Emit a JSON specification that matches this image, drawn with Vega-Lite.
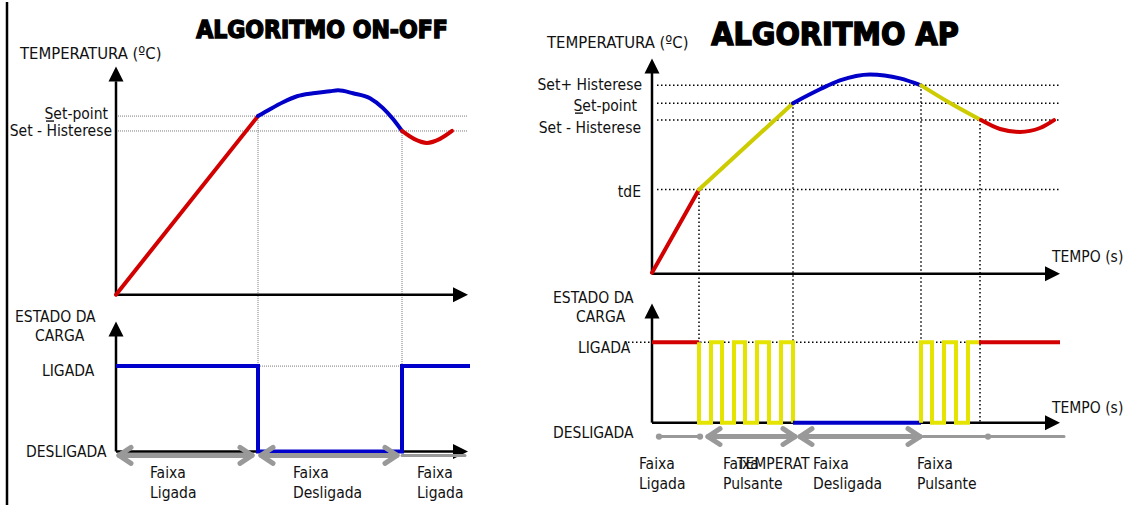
{
  "$schema": "https://vega.github.io/schema/vega-lite/v6.json",
  "width": 1131,
  "height": 507,
  "autosize": {"type": "fit", "contains": "padding"},
  "padding": 0,
  "background": "white",
  "config": {"view": {"stroke": null}},
  "datasets": {
    "rules": [
      {"x": 116, "x2": 468, "y": 115, "y2": 115, "kind": "gridL"},
      {"x": 116, "x2": 468, "y": 130, "y2": 130, "kind": "gridL"},
      {"x": 258, "x2": 258, "y": 115, "y2": 455, "kind": "gridL"},
      {"x": 402, "x2": 402, "y": 130, "y2": 455, "kind": "gridL"},
      {"x": 258, "x2": 402, "y": 367, "y2": 367, "kind": "gridL"},
      {"x": 657, "x2": 1059, "y": 84, "y2": 84, "kind": "gridR"},
      {"x": 657, "x2": 1059, "y": 102, "y2": 102, "kind": "gridR"},
      {"x": 657, "x2": 1059, "y": 119, "y2": 119, "kind": "gridR"},
      {"x": 657, "x2": 1059, "y": 189, "y2": 189, "kind": "gridR"},
      {"x": 699, "x2": 699, "y": 189, "y2": 424, "kind": "gridR"},
      {"x": 793, "x2": 793, "y": 102, "y2": 424, "kind": "gridR"},
      {"x": 921, "x2": 921, "y": 84, "y2": 424, "kind": "gridR"},
      {"x": 980, "x2": 980, "y": 119, "y2": 424, "kind": "gridR"},
      {"x": 628, "x2": 1060, "y": 343, "y2": 343, "kind": "gridR"},
      {"x": 7, "x2": 7, "y": 0, "y2": 507, "kind": "axis"},
      {"x": 116, "x2": 116, "y": 80, "y2": 295, "kind": "axis"},
      {"x": 116, "x2": 455, "y": 295, "y2": 295, "kind": "axis"},
      {"x": 116, "x2": 116, "y": 336, "y2": 453, "kind": "axis"},
      {"x": 116, "x2": 455, "y": 453, "y2": 453, "kind": "axis"},
      {"x": 652, "x2": 652, "y": 68, "y2": 274, "kind": "axis"},
      {"x": 652, "x2": 1048, "y": 274, "y2": 274, "kind": "axis"},
      {"x": 652, "x2": 652, "y": 318, "y2": 424, "kind": "axis"},
      {"x": 652, "x2": 1048, "y": 424, "y2": 424, "kind": "axis"},
      {"x": 46, "x2": 54, "y": 120, "y2": 120, "kind": "underline"},
      {"x": 575, "x2": 583, "y": 112, "y2": 112, "kind": "underline"},
      {"x": 120, "x2": 251, "y": 457, "y2": 457, "kind": "grey"},
      {"x": 262, "x2": 396, "y": 457, "y2": 457, "kind": "grey"},
      {"x": 709, "x2": 794, "y": 438, "y2": 438, "kind": "grey"},
      {"x": 801, "x2": 919, "y": 438, "y2": 438, "kind": "grey"},
      {"x": 119, "x2": 131, "y": 457, "y2": 449, "kind": "grey"},
      {"x": 119, "x2": 131, "y": 457, "y2": 465, "kind": "grey"},
      {"x": 252, "x2": 240, "y": 457, "y2": 449, "kind": "grey"},
      {"x": 252, "x2": 240, "y": 457, "y2": 465, "kind": "grey"},
      {"x": 261, "x2": 273, "y": 457, "y2": 449, "kind": "grey"},
      {"x": 261, "x2": 273, "y": 457, "y2": 465, "kind": "grey"},
      {"x": 397, "x2": 385, "y": 457, "y2": 449, "kind": "grey"},
      {"x": 397, "x2": 385, "y": 457, "y2": 465, "kind": "grey"},
      {"x": 708, "x2": 720, "y": 438, "y2": 430, "kind": "grey"},
      {"x": 708, "x2": 720, "y": 438, "y2": 446, "kind": "grey"},
      {"x": 795, "x2": 783, "y": 438, "y2": 430, "kind": "grey"},
      {"x": 795, "x2": 783, "y": 438, "y2": 446, "kind": "grey"},
      {"x": 800, "x2": 812, "y": 438, "y2": 430, "kind": "grey"},
      {"x": 800, "x2": 812, "y": 438, "y2": 446, "kind": "grey"},
      {"x": 920, "x2": 908, "y": 438, "y2": 430, "kind": "grey"},
      {"x": 920, "x2": 908, "y": 438, "y2": 446, "kind": "grey"},
      {"x": 402, "x2": 465, "y": 457, "y2": 457, "kind": "greyThin"},
      {"x": 659, "x2": 700, "y": 438, "y2": 438, "kind": "greyThin"},
      {"x": 923, "x2": 1064, "y": 438, "y2": 438, "kind": "greyThin"}
    ],
    "heads": [
      {"x": 116, "y": 72.5, "dir": "up"},
      {"x": 460.5, "y": 295, "dir": "right"},
      {"x": 116, "y": 329.5, "dir": "up"},
      {"x": 460.5, "y": 453, "dir": "right"},
      {"x": 652, "y": 64.5, "dir": "up"},
      {"x": 1052.5, "y": 274, "dir": "right"},
      {"x": 652, "y": 311.5, "dir": "up"},
      {"x": 1052.5, "y": 424, "dir": "right"}
    ],
    "dots": [
      {"x": 659, "y": 438},
      {"x": 700, "y": 438},
      {"x": 988, "y": 438}
    ],
    "temp": [
      {"x": 116, "y": 295, "state": "aquecendo", "seg": "L1"},
      {"x": 258, "y": 115, "state": "aquecendo", "seg": "L1"},
      {"x": 258, "y": 115, "state": "desligado", "seg": "L2"},
      {"x": 270, "y": 108, "state": "desligado", "seg": "L2"},
      {"x": 283, "y": 101, "state": "desligado", "seg": "L2"},
      {"x": 297, "y": 95, "state": "desligado", "seg": "L2"},
      {"x": 313, "y": 92, "state": "desligado", "seg": "L2"},
      {"x": 330, "y": 90, "state": "desligado", "seg": "L2"},
      {"x": 338, "y": 89, "state": "desligado", "seg": "L2"},
      {"x": 353, "y": 92, "state": "desligado", "seg": "L2"},
      {"x": 370, "y": 97, "state": "desligado", "seg": "L2"},
      {"x": 383, "y": 107, "state": "desligado", "seg": "L2"},
      {"x": 393, "y": 118, "state": "desligado", "seg": "L2"},
      {"x": 402, "y": 130, "state": "desligado", "seg": "L2"},
      {"x": 402, "y": 130, "state": "aquecendo", "seg": "L3"},
      {"x": 414, "y": 138, "state": "aquecendo", "seg": "L3"},
      {"x": 427, "y": 142, "state": "aquecendo", "seg": "L3"},
      {"x": 440, "y": 138, "state": "aquecendo", "seg": "L3"},
      {"x": 452, "y": 130, "state": "aquecendo", "seg": "L3"},
      {"x": 652, "y": 273, "state": "aquecendo", "seg": "R1"},
      {"x": 699, "y": 189, "state": "aquecendo", "seg": "R1"},
      {"x": 699, "y": 189, "state": "pulsante", "seg": "R2"},
      {"x": 793, "y": 102, "state": "pulsante", "seg": "R2"},
      {"x": 793, "y": 102, "state": "desligado", "seg": "R3"},
      {"x": 820, "y": 88, "state": "desligado", "seg": "R3"},
      {"x": 840, "y": 79, "state": "desligado", "seg": "R3"},
      {"x": 870, "y": 73, "state": "desligado", "seg": "R3"},
      {"x": 900, "y": 77, "state": "desligado", "seg": "R3"},
      {"x": 921, "y": 84, "state": "desligado", "seg": "R3"},
      {"x": 921, "y": 84, "state": "pulsante", "seg": "R4"},
      {"x": 947, "y": 100, "state": "pulsante", "seg": "R4"},
      {"x": 981, "y": 119, "state": "pulsante", "seg": "R4"},
      {"x": 981, "y": 119, "state": "aquecendo", "seg": "R5"},
      {"x": 1000, "y": 128, "state": "aquecendo", "seg": "R5"},
      {"x": 1020, "y": 131, "state": "aquecendo", "seg": "R5"},
      {"x": 1040, "y": 127, "state": "aquecendo", "seg": "R5"},
      {"x": 1054, "y": 119, "state": "aquecendo", "seg": "R5"}
    ],
    "carga": [
      {"i": 1, "x": 116, "y": 367, "state": "carga", "seg": "C1"},
      {"i": 2, "x": 258, "y": 367, "state": "carga", "seg": "C1"},
      {"i": 3, "x": 258, "y": 453, "state": "carga", "seg": "C1"},
      {"i": 4, "x": 402, "y": 453, "state": "carga", "seg": "C1"},
      {"i": 5, "x": 402, "y": 367, "state": "carga", "seg": "C1"},
      {"i": 6, "x": 470, "y": 367, "state": "carga", "seg": "C1"},
      {"i": 1, "x": 652, "y": 343, "state": "aquecendo", "seg": "D1"},
      {"i": 2, "x": 699, "y": 343, "state": "aquecendo", "seg": "D1"},
      {"i": 1, "x": 699, "y": 343, "state": "pulso", "seg": "P1"},
      {"i": 2, "x": 699, "y": 424, "state": "pulso", "seg": "P1"},
      {"i": 3, "x": 711, "y": 424, "state": "pulso", "seg": "P1"},
      {"i": 4, "x": 711, "y": 343, "state": "pulso", "seg": "P1"},
      {"i": 5, "x": 722, "y": 343, "state": "pulso", "seg": "P1"},
      {"i": 6, "x": 722, "y": 424, "state": "pulso", "seg": "P1"},
      {"i": 7, "x": 734, "y": 424, "state": "pulso", "seg": "P1"},
      {"i": 8, "x": 734, "y": 343, "state": "pulso", "seg": "P1"},
      {"i": 9, "x": 745, "y": 343, "state": "pulso", "seg": "P1"},
      {"i": 10, "x": 745, "y": 424, "state": "pulso", "seg": "P1"},
      {"i": 11, "x": 757, "y": 424, "state": "pulso", "seg": "P1"},
      {"i": 12, "x": 757, "y": 343, "state": "pulso", "seg": "P1"},
      {"i": 13, "x": 769, "y": 343, "state": "pulso", "seg": "P1"},
      {"i": 14, "x": 769, "y": 424, "state": "pulso", "seg": "P1"},
      {"i": 15, "x": 781, "y": 424, "state": "pulso", "seg": "P1"},
      {"i": 16, "x": 781, "y": 343, "state": "pulso", "seg": "P1"},
      {"i": 17, "x": 793, "y": 343, "state": "pulso", "seg": "P1"},
      {"i": 18, "x": 793, "y": 424, "state": "pulso", "seg": "P1"},
      {"i": 1, "x": 793, "y": 424, "state": "desligado", "seg": "D2"},
      {"i": 2, "x": 921, "y": 424, "state": "desligado", "seg": "D2"},
      {"i": 1, "x": 921, "y": 424, "state": "pulso", "seg": "P2"},
      {"i": 2, "x": 921, "y": 343, "state": "pulso", "seg": "P2"},
      {"i": 3, "x": 932, "y": 343, "state": "pulso", "seg": "P2"},
      {"i": 4, "x": 932, "y": 424, "state": "pulso", "seg": "P2"},
      {"i": 5, "x": 944, "y": 424, "state": "pulso", "seg": "P2"},
      {"i": 6, "x": 944, "y": 343, "state": "pulso", "seg": "P2"},
      {"i": 7, "x": 956, "y": 343, "state": "pulso", "seg": "P2"},
      {"i": 8, "x": 956, "y": 424, "state": "pulso", "seg": "P2"},
      {"i": 9, "x": 968, "y": 424, "state": "pulso", "seg": "P2"},
      {"i": 10, "x": 968, "y": 343, "state": "pulso", "seg": "P2"},
      {"i": 11, "x": 979, "y": 343, "state": "pulso", "seg": "P2"},
      {"i": 1, "x": 979, "y": 343, "state": "aquecendo", "seg": "D3"},
      {"i": 2, "x": 1060, "y": 343, "state": "aquecendo", "seg": "D3"}
    ],
    "titles": [
      {"x": 322, "y": 36, "label": "ALGORITMO ON-OFF", "panel": "L"},
      {"x": 835, "y": 43, "label": "ALGORITMO AP", "panel": "R"}
    ],
    "labelsBig": [
      {"x": 20, "y": 57, "label": "TEMPERATURA (ºC)"},
      {"x": 547, "y": 46, "label": "TEMPERATURA (ºC)"}
    ],
    "labelsLeft": [
      {"x": 15, "y": 323, "label": "ESTADO DA"},
      {"x": 35, "y": 342, "label": "CARGA"},
      {"x": 42, "y": 377, "label": "LIGADA"},
      {"x": 26, "y": 459, "label": "DESLIGADA"},
      {"x": 150, "y": 480, "label": "Faixa"},
      {"x": 150, "y": 500, "label": "Ligada"},
      {"x": 293, "y": 480, "label": "Faixa"},
      {"x": 293, "y": 500, "label": "Desligada"},
      {"x": 417, "y": 480, "label": "Faixa"},
      {"x": 417, "y": 500, "label": "Ligada"},
      {"x": 1052, "y": 262, "label": "TEMPO (s)"},
      {"x": 553, "y": 303, "label": "ESTADO DA"},
      {"x": 576, "y": 323, "label": "CARGA"},
      {"x": 578, "y": 354, "label": "LIGADA"},
      {"x": 553, "y": 439, "label": "DESLIGADA"},
      {"x": 1052, "y": 414, "label": "TEMPO (s)"},
      {"x": 639, "y": 471, "label": "Faixa"},
      {"x": 639, "y": 491, "label": "Ligada"},
      {"x": 723, "y": 471, "label": "Faixa"},
      {"x": 723, "y": 491, "label": "Pulsante"},
      {"x": 737, "y": 471, "label": "TEMPERAT"},
      {"x": 813, "y": 471, "label": "Faixa"},
      {"x": 813, "y": 491, "label": "Desligada"},
      {"x": 917, "y": 471, "label": "Faixa"},
      {"x": 917, "y": 491, "label": "Pulsante"}
    ],
    "labelsRight": [
      {"x": 108, "y": 118, "label": "Set-point"},
      {"x": 112, "y": 135, "label": "Set - Histerese"},
      {"x": 642, "y": 89, "label": "Set+ Histerese"},
      {"x": 637, "y": 110, "label": "Set-point"},
      {"x": 641, "y": 132, "label": "Set - Histerese"},
      {"x": 641, "y": 197, "label": "tdE"}
    ]
  },
  "encoding": {
    "x": {"field": "x", "type": "quantitative", "scale": {"domain": [0, 1131], "nice": false, "zero": false}, "axis": null},
    "y": {"field": "y", "type": "quantitative", "scale": {"domain": [0, 507], "nice": false, "zero": false, "reverse": true}, "axis": null}
  },
  "layer": [
    {
      "data": {"name": "rules"},
      "transform": [{"filter": "datum.kind === 'gridL'"}],
      "mark": {"type": "rule", "color": "#7a7a7a", "strokeWidth": 1, "strokeDash": [1, 1]},
      "encoding": {"x2": {"field": "x2"}, "y2": {"field": "y2"}}
    },
    {
      "data": {"name": "rules"},
      "transform": [{"filter": "datum.kind === 'gridR'"}],
      "mark": {"type": "rule", "color": "#000000", "strokeWidth": 1.5, "strokeDash": [1.5, 2.5]},
      "encoding": {"x2": {"field": "x2"}, "y2": {"field": "y2"}}
    },
    {
      "data": {"name": "rules"},
      "transform": [{"filter": "datum.kind === 'axis'"}],
      "mark": {"type": "rule", "color": "#000000", "strokeWidth": 2.5},
      "encoding": {"x2": {"field": "x2"}, "y2": {"field": "y2"}}
    },
    {
      "data": {"name": "rules"},
      "transform": [{"filter": "datum.kind === 'underline'"}],
      "mark": {"type": "rule", "color": "#000000", "strokeWidth": 1.3},
      "encoding": {"x2": {"field": "x2"}, "y2": {"field": "y2"}}
    },
    {
      "data": {"name": "heads"},
      "mark": {"type": "point", "filled": true, "size": 225, "color": "#000000", "opacity": 1, "strokeWidth": 0},
      "encoding": {
        "shape": {"field": "dir", "type": "nominal", "scale": {"domain": ["up", "right"], "range": ["M-1,1L1,1L0,-1Z", "M-1,-1L-1,1L1,0Z"]}, "legend": null}
      }
    },
    {
      "data": {"name": "temp"},
      "mark": {"type": "line", "interpolate": "monotone", "strokeWidth": 4, "strokeCap": "round"},
      "encoding": {
        "color": {"field": "state", "type": "nominal", "scale": {"domain": ["aquecendo", "desligado", "pulsante", "pulso", "carga"], "range": ["#d20000", "#0000c8", "#cccc00", "#e4e400", "#0000cc"]}, "legend": null},
        "detail": {"field": "seg"}
      }
    },
    {
      "data": {"name": "carga"},
      "mark": {"type": "line", "strokeWidth": 4, "strokeJoin": "miter"},
      "encoding": {
        "color": {"field": "state", "type": "nominal", "scale": {"domain": ["aquecendo", "desligado", "pulsante", "pulso", "carga"], "range": ["#d20000", "#0000c8", "#cccc00", "#e4e400", "#0000cc"]}, "legend": null},
        "detail": {"field": "seg"},
        "order": {"field": "i", "type": "quantitative"}
      }
    },
    {
      "data": {"name": "rules"},
      "transform": [{"filter": "datum.kind === 'grey'"}],
      "mark": {"type": "rule", "color": "#999999", "strokeWidth": 5, "strokeCap": "round"},
      "encoding": {"x2": {"field": "x2"}, "y2": {"field": "y2"}}
    },
    {
      "data": {"name": "rules"},
      "transform": [{"filter": "datum.kind === 'greyThin'"}],
      "mark": {"type": "rule", "color": "#999999", "strokeWidth": 3, "strokeCap": "round"},
      "encoding": {"x2": {"field": "x2"}, "y2": {"field": "y2"}}
    },
    {
      "data": {"name": "dots"},
      "mark": {"type": "point", "filled": true, "shape": "circle", "size": 40, "color": "#999999", "opacity": 1}
    },
    {
      "data": {"name": "titles"},
      "transform": [{"filter": "datum.panel === 'L'"}],
      "mark": {"type": "text", "align": "center", "baseline": "alphabetic", "font": "DejaVu Sans Condensed, sans-serif", "fontWeight": "bold", "fontSize": 24.5, "color": "#000000", "stroke": "#000000", "strokeWidth": 1.4},
      "encoding": {"text": {"field": "label"}}
    },
    {
      "data": {"name": "titles"},
      "transform": [{"filter": "datum.panel === 'R'"}],
      "mark": {"type": "text", "align": "center", "baseline": "alphabetic", "font": "DejaVu Sans Condensed, sans-serif", "fontWeight": "bold", "fontSize": 32, "color": "#000000", "stroke": "#000000", "strokeWidth": 1.4},
      "encoding": {"text": {"field": "label"}}
    },
    {
      "data": {"name": "labelsBig"},
      "mark": {"type": "text", "align": "left", "baseline": "alphabetic", "font": "DejaVu Sans Condensed, DejaVu Sans, sans-serif", "fontSize": 16.5, "color": "#111111"},
      "encoding": {"text": {"field": "label"}}
    },
    {
      "data": {"name": "labelsLeft"},
      "mark": {"type": "text", "align": "left", "baseline": "alphabetic", "font": "DejaVu Sans Condensed, DejaVu Sans, sans-serif", "fontSize": 15.5, "color": "#111111"},
      "encoding": {"text": {"field": "label"}}
    },
    {
      "data": {"name": "labelsRight"},
      "mark": {"type": "text", "align": "right", "baseline": "alphabetic", "font": "DejaVu Sans Condensed, DejaVu Sans, sans-serif", "fontSize": 15.5, "color": "#111111"},
      "encoding": {"text": {"field": "label"}}
    }
  ]
}
